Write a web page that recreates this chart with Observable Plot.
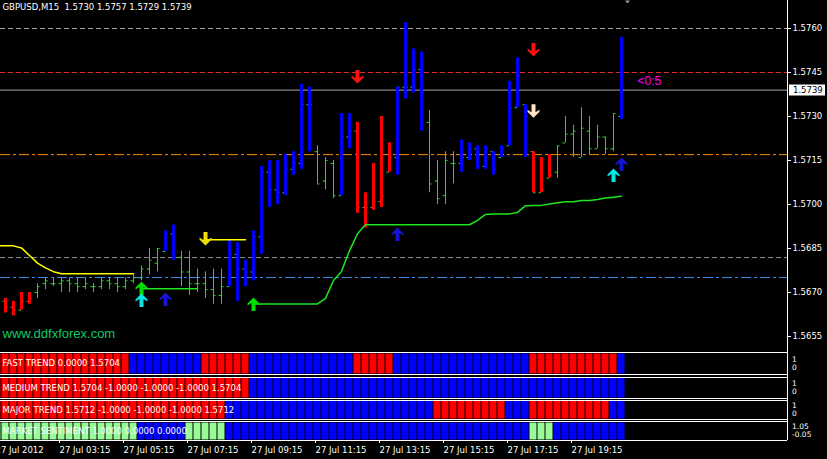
<!DOCTYPE html>
<html><head><meta charset="utf-8">
<script src="https://cdn.jsdelivr.net/npm/d3@7"></script>
<script src="https://cdn.jsdelivr.net/npm/@observablehq/plot@0.6"></script>
<style>
html,body{margin:0;padding:0;background:#000;}
#chart{position:relative;width:827px;height:459px;background:#000;overflow:hidden;}
</style></head><body><div id="chart"></div>
<script>
// ---------- data ----------
const symbol = "GBPUSD", period = "M15";
const opens = [1.5668,1.5667,1.5665,1.5664,1.5667,1.5670,1.5673,1.5673,1.5673,1.5674,
 1.5673,1.5672,1.5672,1.5672,1.5674,1.5673,1.5672,1.5674,1.5675,1.5678,
 1.5680,1.5684,1.5690,1.5682,1.5677,1.5673,1.5673,1.5671,1.5669,1.5672,
 1.5683,1.5678,1.5677,1.5689,1.5711,1.5705,1.5704,1.5712,1.5714,1.5734,
 1.5718,1.5708,1.5714,1.5703,1.5723,1.5725,1.5699,1.5699,1.5701,1.5711,
 1.5716,1.5740,1.5740,1.5746,1.5728,1.5708,1.5703,1.5714,1.5714,1.5716,
 1.5719,1.5713,1.5718,1.5716,1.5720,1.5733,1.5734,1.5718,1.5704,1.5709,
 1.5711,1.5721,1.5724,1.5716,1.5725,1.5719,1.5723,1.5719,1.5730];
const highs = [1.5669,1.5668,1.5667,1.5670,1.5670,1.5673,1.5675,1.5675,1.5675,1.5675,
 1.5675,1.5675,1.5673,1.5675,1.5675,1.5675,1.5675,1.5676,1.5679,1.5685,
 1.5685,1.5691,1.5693,1.5684,1.5684,1.5678,1.5677,1.5678,1.5678,1.5688,
 1.5687,1.5681,1.5691,1.5713,1.5715,1.5715,1.5717,1.5718,1.5741,1.5740,
 1.5720,1.5716,1.5715,1.5731,1.5731,1.5728,1.5704,1.5714,1.5730,1.5721,
 1.5740,1.5762,1.5753,1.5752,1.5732,1.5715,1.5718,1.5718,1.5722,1.5721,
 1.5720,1.5720,1.5718,1.5720,1.5742,1.5750,1.5734,1.5718,1.5716,1.5717,
 1.5720,1.5730,1.5727,1.5733,1.5730,1.5727,1.5723,1.5731,1.5757];
const lows = [1.5664,1.5663,1.5662,1.5664,1.5666,1.5668,1.5671,1.5672,1.5670,1.5670,
 1.5670,1.5671,1.5670,1.5671,1.5671,1.5670,1.5671,1.5673,1.5674,1.5676,
 1.5677,1.5684,1.5681,1.5672,1.5669,1.5670,1.5668,1.5666,1.5666,1.5672,
 1.5667,1.5672,1.5674,1.5683,1.5699,1.5700,1.5703,1.5710,1.5712,1.5718,
 1.5707,1.5705,1.5702,1.5703,1.5719,1.5697,1.5692,1.5698,1.5699,1.5711,
 1.5710,1.5736,1.5738,1.5725,1.5704,1.5700,1.5700,1.5707,1.5711,1.5715,
 1.5712,1.5712,1.5710,1.5716,1.5720,1.5733,1.5716,1.5704,1.5704,1.5709,
 1.5709,1.5721,1.5716,1.5716,1.5717,1.5719,1.5717,1.5718,1.5729];
const closes = [1.5665,1.5665,1.5664,1.5667,1.5668,1.5672,1.5674,1.5673,1.5674,1.5673,
 1.5672,1.5673,1.5672,1.5674,1.5673,1.5672,1.5674,1.5675,1.5678,1.5681,
 1.5685,1.5690,1.5682,1.5677,1.5673,1.5673,1.5671,1.5669,1.5672,1.5683,
 1.5678,1.5677,1.5689,1.5711,1.5705,1.5704,1.5712,1.5714,1.5734,1.5734,
 1.5707,1.5715,1.5703,1.5723,1.5725,1.5699,1.5699,1.5701,1.5703,1.5716,
 1.5740,1.5740,1.5746,1.5738,1.5707,1.5702,1.5715,1.5714,1.5716,1.5719,
 1.5713,1.5719,1.5712,1.5719,1.5733,1.5744,1.5730,1.5704,1.5705,1.5710,
 1.5720,1.5724,1.5725,1.5726,1.5719,1.5723,1.5719,1.5731,1.5739];
// bar colouring: r = red (down trend), b = blue (up trend), g = plain OHLC bar
const barTypes = ("rrrrr"+"gggggggggggggggg"+"bb"+"gggggg"+"bbbbbbbbbbb"+"ggg"+"bb"+"rrrrr"+"bbbb"+"gggg"+"bbbbbbbbb"+"rrr"+"gggggggg"+"b").split("");

const yellowStart = 0;
const yellowLine = [1.56859,1.56859,1.56859,1.56852,1.56826,1.56800,1.56784,1.56771,1.56764,1.56764,1.56764,1.56764,1.56764,1.56764,1.56764,1.56764,1.56764,1.56764];
const trailStart = 32;
const trailLine = [1.56661,1.56661,1.56661,1.56661,1.56661,1.56661,1.56661,1.56661,1.56661,
 1.56680,1.56741,1.56772,1.56843,1.56900,
 1.56931,1.56931,1.56931,1.56931,1.56931,1.56931,1.56931,1.56931,1.56931,1.56931,1.56931,1.56931,1.56931,1.56931,
 1.56946,1.56966,1.56968,1.56968,1.56968,1.56973,1.56996,1.56997,1.56997,1.57002,1.57006,1.57009,1.57009,1.57014,1.57014,1.57017,1.57022,1.57025,1.57028];
const yellowSegStart = 26;
const yellowSeg = [1.56880,1.56880,1.56880,1.56880,1.56880,1.56880];
const greenSegStart = 18;
const greenSeg = [1.56713,1.56713,1.56713,1.56713,1.56713,1.56713,1.56713,1.56713];

const upIdx = [18,18,21,32,50,77,78];
const upPrice = [1.56714,1.56673,1.56676,1.56659,1.56898,1.57099,1.57136];
const upColor = ["#00e000","#00e8e8","#1414d8","#00e000","#1414d8","#00e8e8","#1414d8"];
const downIdx = [26,45,67,67];
const downPrice = [1.56884,1.57436,1.57528,1.57320];
const downColor = ["#f0e000","#ff1010","#ff1010","#ffe4c4"];

const levelValues = [1.5760, 1.5745, 1.5717, 1.56819, 1.56751];
const yTicks = [1.5655,1.5670,1.5685,1.5700,1.5715,1.5730,1.5745,1.5760];
const xTickIdx = [0,8,16,24,32,40,48,56,64,72];
const xTickLabels = ["27 Jul 2012","27 Jul 03:15","27 Jul 05:15","27 Jul 07:15","27 Jul 09:15","27 Jul 11:15","27 Jul 13:15","27 Jul 15:15","27 Jul 17:15","27 Jul 19:15"];

const fastTrend   = ("r".repeat(17)+"b".repeat(9)+"r".repeat(6)+"b".repeat(13)+"r".repeat(5)+"b".repeat(17)+"r".repeat(11)+"b").split("");
const mediumTrend = ("r".repeat(32)+"b".repeat(47)).split("");
const majorTrend  = ("r".repeat(29)+"b".repeat(26)+"r".repeat(9)+"b".repeat(3)+"r".repeat(10)+"b".repeat(2)).split("");
const sentiment   = ("g".repeat(18)+"b".repeat(6)+"g".repeat(5)+"b".repeat(38)+"g".repeat(3)+"b".repeat(9)).split("");
const panelLabels = ["FAST TREND 0.0000 1.5704","MEDIUM TREND 1.5704 -1.0000 -1.0000 -1.0000 1.5704","MAJOR TREND 1.5712 -1.0000 -1.0000 -1.0000 1.5712","MARKET SENTIMENT 1.0000 0.0000 0.0000"];
const panelScaleLabels = [["1","0"],["1","0"],["1","0"],["1.05","-0.05"]];
const watermark = "www.ddfxforex.com";
const countdown = "<0:5";

// ---------- layout ----------
const W = 827;
const n = closes.length;
const barPx = 8, firstBarX = -3, plotRight = 787;   // Plot adds a 0.5px offset
const xDomain = [(0 - firstBarX) / barPx, (plotRight - firstBarX) / barPx];
const axisXVal = xDomain[1];
const pricePx = 44 / 0.0015;
const mainH = 351;
const yTop = 1.5760 + 28 / pricePx, yBot = 1.5760 - (mainH - 28) / pricePx;
const green = "#2ed22e";
const typeColor = {r: "#ff0000", b: "#0000ff", g: green};
const blockColor = {r: "#ff0000", b: "#0000ff", g: "#98fb98"};
const font = "'DejaVu Sans', sans-serif";
const baseStyle = top => ({background: "#000", color: "#fff", fontFamily: font, fontSize: "8.5px", position: "absolute", left: "0px", top: top + "px"});

const bars = closes.map((c, i) => ({i, o: opens[i], h: highs[i], l: lows[i], c, t: barTypes[i]}));
const seq = (start, arr) => arr.map((v, k) => ({i: start + k, v}));
const ups = upIdx.map((i, k) => ({i, v: upPrice[k], color: upColor[k]}));
const downs = downIdx.map((i, k) => ({i, v: downPrice[k], color: downColor[k]}));
const tickLen = 2.5 / barPx;

function poly(pts) { return {draw(ctx) { ctx.moveTo(pts[0][0], pts[0][1]); for (const p of pts.slice(1)) ctx.lineTo(p[0], p[1]); ctx.closePath(); }}; }
const upShape = [[0,-7],[6,-1],[6,1],[2,-1.5],[2,6.5],[-2,6.5],[-2,-1.5],[-6,1],[-6,-1]];
const arrowUp = poly(upShape);
const arrowDown = poly(upShape.map(([a, b]) => [a, -b]));
const boxSym = {draw(ctx) { ctx.rect(-18, -5.5, 36, 11); }};
const triSym = poly([[-2.5,0],[2.5,0],[0,3]]);

const levelStyles = [["#a0a0a0","5,3"],["#e02828","5,3"],["#ff8c00","10,3,3,3"],["#909090","5,3"],["#3c8ce6","10,3,3,3"]];
const last = n - 1;
const title = `${symbol},${period}  ${[opens[last], highs[last], lows[last], closes[last]].map(v => v.toFixed(4)).join(" ")}`;

const main = Plot.plot({
  width: W, height: mainH, marginLeft: 0, marginRight: W - plotRight, marginTop: 0, marginBottom: 0,
  x: {domain: xDomain, axis: null},
  y: {domain: [yBot, yTop]},
  color: {type: "identity"},
  style: baseStyle(0),
  marks: [
    ...levelValues.map((v, k) => Plot.ruleY([v], {stroke: levelStyles[k][0], strokeDasharray: levelStyles[k][1]})),
    Plot.ruleY([closes[last]], {stroke: "#a0a0a0"}),
    Plot.ruleY(bars, {y: "o", x1: d => d.i - tickLen, x2: "i", stroke: green}),
    Plot.ruleY(bars, {y: "c", x1: "i", x2: d => d.i + tickLen, stroke: green}),
    Plot.ruleX(bars.filter(d => d.t === "g"), {x: "i", y1: "l", y2: "h", stroke: green}),
    Plot.ruleX(bars.filter(d => d.t !== "g"), {x: "i", y1: "l", y2: "h", stroke: d => typeColor[d.t], strokeWidth: 3}),
    Plot.line(seq(yellowStart, yellowLine), {x: "i", y: "v", stroke: "#ffff00"}),
    Plot.line(seq(yellowSegStart, yellowSeg), {x: "i", y: "v", stroke: "#ffff00"}),
    Plot.line(seq(greenSegStart, greenSeg), {x: "i", y: "v", stroke: "#1ee61e"}),
    Plot.line(seq(trailStart, trailLine), {x: "i", y: "v", stroke: "#1ee61e"}),
    Plot.dot(ups, {x: "i", y: "v", fill: "color", symbol: arrowUp}),
    Plot.dot(downs, {x: "i", y: "v", fill: "color", symbol: arrowDown}),
    Plot.text([title], {frameAnchor: "top-left", dx: 2, dy: 3, text: d => d, fill: "#fff"}),
    Plot.text([watermark], {frameAnchor: "bottom-left", dx: 2, dy: -14, text: d => d, fill: "#10c868", fontFamily: "'Liberation Sans', sans-serif", fontSize: 13}),
    Plot.text([countdown], {x: () => n + 1, y: () => 1.5742, text: d => d, textAnchor: "start", fill: "#ff00ff", fontFamily: "'Liberation Sans', sans-serif", fontSize: 12}),
    Plot.ruleX([axisXVal], {stroke: "#fff"}),
    Plot.axisY({anchor: "right", ticks: yTicks, tickFormat: d3.format(".4f"), tickSize: 3, tickPadding: 2, label: null}),
    Plot.dot([closes[last]], {y: d => d, frameAnchor: "right", dx: 19.5, symbol: boxSym, fill: "#fff"}),
    Plot.text([closes[last]], {y: d => d, frameAnchor: "right", dx: 5.5, textAnchor: "start", text: d => d.toFixed(4), fill: "#000"}),
    Plot.dot([0], {frameAnchor: "top-left", dx: 627, symbol: triSym, fill: "#8898a8"})
  ]
});

function panel(types, k, top, h, mt, mb, insetTop, insetBottom, withAxis) {
  const blocks = types.map((t, i) => ({i, t}));
  const yAt = px => (h - mb - px) / (h - mt - mb);
  const marks = [
    Plot.rect(blocks, {x1: d => d.i - 0.5, x2: d => d.i + 0.5, y1: 0, y2: 1, fill: d => blockColor[d.t], insetRight: 1, insetTop, insetBottom, dx: 0.5}),
    Plot.ruleY([0, 1], {stroke: "#fff"}),
    Plot.ruleX([axisXVal], {y1: withAxis ? 0 : yAt(h), y2: yAt(0), stroke: "#fff"}),
    Plot.text([panelLabels[k]], {frameAnchor: "left", dx: 2, text: d => d, fill: "#fff"}),
    Plot.text([panelScaleLabels[k][0]], {frameAnchor: "right", dx: 4.5, dy: -4, textAnchor: "start", text: d => d, fill: "#fff", fontSize: 7.5}),
    Plot.text([panelScaleLabels[k][1]], {frameAnchor: "right", dx: 4.5, dy: 4, textAnchor: "start", text: d => d, fill: "#fff", fontSize: 7.5})
  ];
  if (withAxis) marks.push(Plot.axisX({anchor: "bottom", ticks: xTickIdx, tickFormat: d => xTickLabels[xTickIdx.indexOf(d)], tickSize: 3, tickPadding: 3.5, textAnchor: "start", dx: -2, label: null}));
  return Plot.plot({
    width: W, height: h, marginLeft: 0, marginRight: W - plotRight, marginTop: mt, marginBottom: mb,
    x: withAxis ? {domain: xDomain} : {domain: xDomain, axis: null},
    y: {domain: [0, 1], axis: null},
    color: {type: "identity"},
    style: baseStyle(top),
    marks
  });
}

const root = document.getElementById("chart");
root.append(main);
root.append(panel(fastTrend, 0, 351, 26, 1, 3, 1.5, 0.5, false));
root.append(panel(mediumTrend, 1, 377, 23, 0, 2, 0.5, 0.5, false));
root.append(panel(majorTrend, 2, 400, 21, 0, 2, 0.5, 0.5, false));
root.append(panel(sentiment, 3, 421, 38, 0, 19, 1.5, 0.5, true));
</script></body></html>
